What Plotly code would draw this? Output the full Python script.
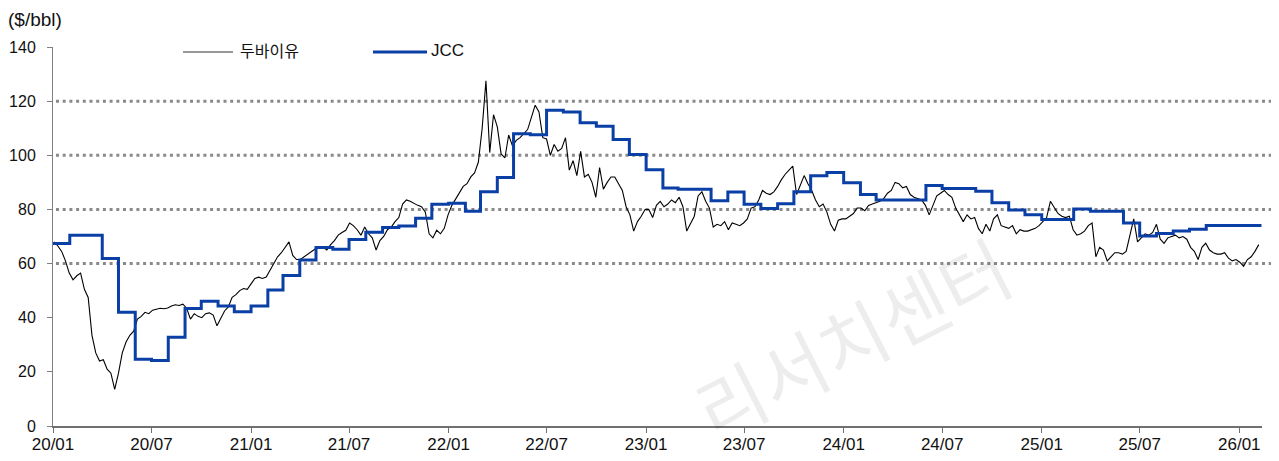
import pandas as pd
import plotly.graph_objects as go

# ---------------- data ----------------
# Dubai crude, weekly (Friday) observations, $/bbl
dubai_2020 = [68.0, 66.5, 64.5, 61.0, 56.5,
              54.0, 55.5, 56.5, 50.5,
              47.5, 33.5, 27.0, 24.0,
              24.5, 21.0, 19.5, 13.5,
              19.5, 27.0, 31.0, 33.5, 35.0,
              39.5, 40.5, 42.0, 41.5,
              42.8, 43.2, 43.5, 43.3, 43.6,
              44.3, 44.8, 44.5, 45.0,
              43.5, 39.5, 41.5, 40.5,
              40.0, 41.5, 41.8, 41.0, 37.0,
              39.5, 42.5, 44.0, 47.5,
              48.5, 50.0, 50.8, 50.5]
dubai_2021 = [52.5, 54.5, 55.0, 54.5, 55.0,
              57.5, 60.5, 62.5, 64.0,
              66.0, 68.0, 63.0, 61.5,
              61.5, 62.5, 63.8, 64.5, 65.5,
              66.2, 66.0, 65.0, 67.0,
              68.5, 70.5, 71.5, 72.3,
              75.0, 74.0, 72.5, 70.5, 73.5,
              71.0, 69.5, 65.0, 68.5,
              70.0, 72.5, 73.5, 75.5,
              77.0, 82.0, 83.5, 83.0, 82.2,
              81.5, 81.0, 79.0, 71.0,
              69.5, 72.3, 71.0, 73.0, 78.0]
dubai_2022 = [81.5, 84.0, 86.5, 88.5,
              89.5, 92.0, 93.5, 97.5,
              110.0, 127.5, 101.0, 115.0,
              110.5, 100.5, 99.0, 107.5, 103.5,
              105.5, 106.5, 108.0, 109.5,
              114.0, 118.5, 116.0, 106.5,
              106.0, 100.0, 104.0, 101.5, 102.5,
              106.5, 94.5, 98.0, 92.5,
              101.5, 92.0, 93.0, 90.0, 84.5,
              95.5, 87.5, 90.0, 92.0,
              92.0, 89.5, 87.0, 81.0,
              78.0, 72.0, 75.5, 77.5, 80.0]
dubai_2023 = [80.0, 77.0, 81.5, 83.0,
              81.0, 82.0, 83.5, 82.5,
              84.5, 81.0, 72.0, 74.5, 77.5,
              85.0, 86.5, 83.0, 80.5,
              73.5, 74.5, 74.0, 75.5,
              72.5, 75.0, 74.5, 74.0, 75.0,
              76.5, 80.5, 81.0, 83.5,
              87.0, 86.0, 85.5, 86.5,
              88.5, 91.0, 93.0, 94.5, 96.0,
              85.5, 89.0, 92.5, 89.5,
              87.0, 83.5, 81.0, 82.0,
              79.0, 74.5, 72.0, 76.0, 76.5]
dubai_2024 = [76.5, 77.5, 78.5, 80.5,
              80.5, 79.5, 81.5, 82.0,
              82.5, 83.0, 84.0, 86.0, 87.0,
              90.0, 89.5, 88.0, 88.5,
              85.5, 84.5, 84.0, 83.5, 81.5,
              78.0, 81.5, 85.0, 86.0,
              87.0, 85.5, 84.5, 80.5,
              78.0, 75.5, 78.0, 76.5, 77.0,
              73.0, 71.0, 74.5, 72.0,
              76.5, 78.0, 74.0, 73.5,
              73.0, 74.0, 71.0, 72.5, 72.0,
              72.0, 72.5, 73.0, 74.0]
dubai_2025 = [75.5, 77.0, 83.0, 80.5, 78.5,
              77.5, 77.0, 77.5, 72.5,
              70.5, 71.0, 72.0, 74.0,
              75.0, 62.5, 66.0, 65.0,
              61.0, 62.5, 64.0, 64.0, 63.5,
              64.5, 70.0, 76.5, 68.0,
              69.5, 71.0, 70.5, 71.5,
              74.5, 69.0, 67.5, 69.5, 70.0,
              70.5, 69.5, 70.0, 69.0,
              66.0, 64.5, 61.5, 66.0, 67.5,
              65.0, 64.0, 63.5, 63.5,
              64.0, 62.0, 61.0, 61.5]
dubai_2026 = [60.5, 59.0, 61.5, 62.5, 64.5, 67.0]
dubai_start = "2020-01-03"

# JCC, monthly
jcc_2020 = [67.4, 70.5, 70.5, 61.9, 42.0, 24.7, 24.2, 32.8, 43.4, 46.1, 44.3, 42.2]
jcc_2021 = [44.3, 50.2, 55.6, 61.3, 65.9, 65.3, 68.9, 71.6, 73.3, 73.9, 76.7, 81.9]
jcc_2022 = [82.3, 79.3, 86.5, 91.8, 108.0, 107.6, 116.6, 116.0, 112.0, 110.7, 105.8, 100.3]
jcc_2023 = [94.7, 87.9, 87.5, 87.5, 83.2, 86.4, 81.9, 80.3, 82.1, 86.5, 92.4, 93.6]
jcc_2024 = [89.9, 85.5, 83.5, 83.5, 83.5, 88.8, 87.7, 87.7, 86.7, 82.5, 79.8, 78.0]
jcc_2025 = [76.3, 76.3, 80.2, 79.3, 79.3, 75.0, 70.2, 71.1, 72.0, 72.7, 74.1, 74.1]
jcc_2026 = [74.1]
jcc_start = "2020-01-01"
jcc_last_day = "2026-02-11"

x_range = ["2020-01-01", "2026-02-12"]
tick_dates = ["2020-01-01", "2020-07-01", "2021-01-01", "2021-07-01", "2022-01-01",
              "2022-07-01", "2023-01-01", "2023-07-01", "2024-01-01", "2024-07-01",
              "2025-01-01", "2025-07-01", "2026-01-01"]
tick_text = ["20/01", "20/07", "21/01", "21/07", "22/01", "22/07", "23/01",
             "23/07", "24/01", "24/07", "25/01", "25/07", "26/01"]
y_ticks = [0, 20, 40, 60, 80, 100, 120, 140]
ref_levels = [60, 80, 100, 120]

series_names = ["두바이유", "JCC"]
unit_label = "($/bbl)"
watermark = "리서치센터"

# ---------------- build ----------------
dubai = dubai_2020 + dubai_2021 + dubai_2022 + dubai_2023 + dubai_2024 + dubai_2025 + dubai_2026
dubai_dates = pd.date_range(dubai_start, periods=len(dubai), freq="W-FRI")

jcc = jcc_2020 + jcc_2021 + jcc_2022 + jcc_2023 + jcc_2024 + jcc_2025 + jcc_2026
jcc_dates = list(pd.date_range(jcc_start, periods=len(jcc), freq="MS")) + [pd.Timestamp(jcc_last_day)]
jcc_vals = jcc + [jcc[-1]]

BLACK = "#000000"
BLUE = "#0a3fa6"
GRID = "#8a8a8a"
XAXIS = "#6f6f6f"
YAXIS = "#7f7f7f"
SANS = "Liberation Sans, Arial, sans-serif"
KFONT = "Noto Sans CJK KR, Liberation Sans, sans-serif"

# the page body adds an 8px offset; the figure is sized so it ends at the window edge
OFF = 8
W, H = 1279 - OFF, 461 - OFF
# plot area in window pixels: x 52.7 .. 1261.6, y 46.6 .. 426
ML = round(52.7 - OFF)
MR = round(1279 - 1261.6)
MT = round(46.6 - OFF)
MB = round(461 - 426)
PW, PH = W - ML - MR, H - MT - MB


def px(xp):
    """window pixel x -> paper coordinate"""
    return (xp - OFF - ML) / PW


def py(yp):
    """window pixel y -> paper coordinate"""
    return (H - MB - (yp - OFF)) / PH


fig = go.Figure()
fig.add_trace(go.Scatter(x=dubai_dates, y=dubai, mode="lines", name=series_names[0],
                         line=dict(color=BLACK, width=1.1), showlegend=False))
fig.add_trace(go.Scatter(x=jcc_dates, y=jcc_vals, mode="lines", name=series_names[1],
                         line=dict(color=BLUE, width=3, shape="hv"), showlegend=False))

shapes = []
for lv in ref_levels:
    shapes.append(dict(type="line", xref="paper", yref="y", x0=px(56), x1=px(1276), y0=lv, y1=lv,
                       line=dict(color=GRID, width=3, dash="3px,3.7px"), layer="below"))
# manual legend
shapes.append(dict(type="line", xref="paper", yref="paper", x0=px(183), x1=px(233), y0=py(52), y1=py(52),
                   line=dict(color="#333333", width=1.2)))
shapes.append(dict(type="line", xref="paper", yref="paper", x0=px(373), x1=px(427), y0=py(52), y1=py(52),
                   line=dict(color=BLUE, width=3)))

annotations = [
    dict(text=unit_label, xref="paper", yref="paper", x=px(6), y=py(20), xanchor="left", yanchor="middle",
         showarrow=False, font=dict(family=SANS, size=19, color="#111111")),
    dict(text=series_names[0], xref="paper", yref="paper", x=px(238), y=py(50), xanchor="left",
         yanchor="middle", showarrow=False, font=dict(family=KFONT, size=16, color="#111111")),
    dict(text=series_names[1], xref="paper", yref="paper", x=px(429), y=py(50), xanchor="left",
         yanchor="middle", showarrow=False, font=dict(family=SANS, size=17, color="#111111")),
    dict(text=watermark, xref="paper", yref="paper", x=px(851), y=py(336), xanchor="center",
         yanchor="middle", showarrow=False, textangle=-27,
         font=dict(family=KFONT, size=74, color="rgba(0,0,0,0.07)")),
]

fig.update_layout(
    width=W, height=H,
    margin=dict(l=ML, r=MR, t=MT, b=MB, pad=0),
    paper_bgcolor="white", plot_bgcolor="white",
    shapes=shapes, annotations=annotations,
    showlegend=False,
)
fig.update_xaxes(type="date", range=x_range, tickvals=tick_dates, ticktext=tick_text,
                 automargin=False, showgrid=False, zeroline=False, showline=True,
                 linecolor=XAXIS, linewidth=2, ticks="outside", ticklen=5, tickcolor=XAXIS,
                 tickwidth=1, ticklabelstandoff=-3,
                 tickfont=dict(family=SANS, size=17, color="#111111"))
fig.update_yaxes(range=[0, 140], tickvals=y_ticks, automargin=False, showgrid=False,
                 zeroline=False, showline=True, linecolor=YAXIS, linewidth=1, ticks="outside",
                 ticklen=5, tickcolor=YAXIS, tickwidth=1, ticklabelstandoff=8,
                 tickfont=dict(family=SANS, size=16, color="#111111"))

fig.write_html("out.html")
